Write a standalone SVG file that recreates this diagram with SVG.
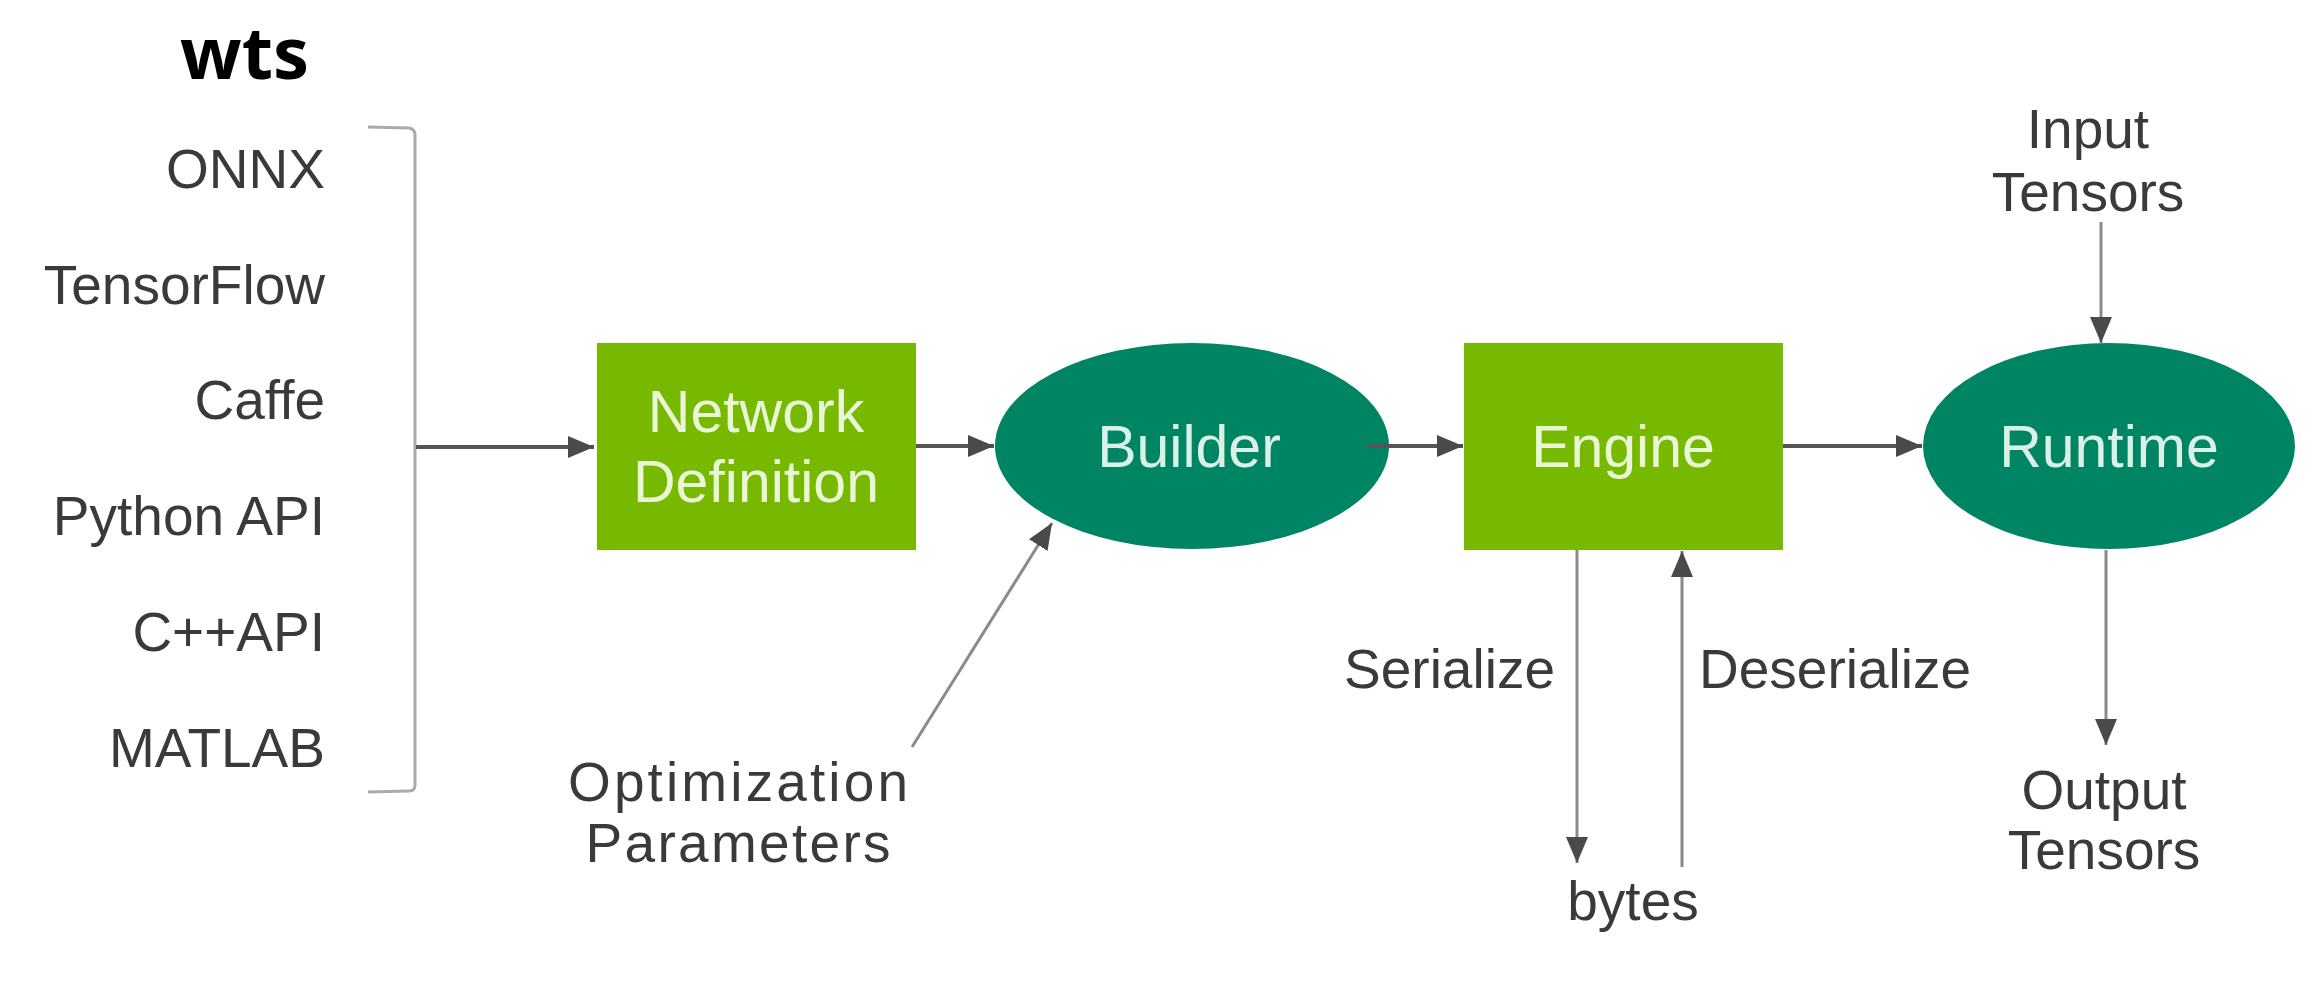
<svg xmlns="http://www.w3.org/2000/svg" width="2318" height="998" viewBox="0 0 2318 998">
<defs>
<marker id="ah" markerUnits="userSpaceOnUse" markerWidth="28" markerHeight="24" refX="26" refY="11" orient="auto">
<path d="M0,0 L26,11 L0,22 z" fill="#4a4a4a"/>
</marker>
</defs>
<style>
.lbl{font-family:"Liberation Sans",Arial,sans-serif;font-size:55px;fill:#3a3a3a}
.r{text-anchor:end}
.m{text-anchor:middle}
.nt{font-family:"Liberation Sans",Arial,sans-serif;font-size:59px;text-anchor:middle}
.gt{fill:#eaf7d6}
.dt{fill:#d9f1e7}
.box{fill:#76b900}
.ell{fill:#008564}
.h{stroke:#555;stroke-width:4;fill:none}
.v{stroke:#8a8a8a;stroke-width:3;fill:none}
.br{stroke:#aaaaaa;stroke-width:3;fill:none}
</style>
<rect width="2318" height="998" fill="#ffffff"/>
<text x="180" y="79" font-family="'Noto Sans','Noto Sans CJK SC',sans-serif" font-weight="bold" font-size="72" fill="#000">wts</text>
<g id="inputs">
<text class="lbl r" x="325" y="188">ONNX</text>
<text class="lbl r" x="325" y="304">TensorFlow</text>
<text class="lbl r" x="325" y="419">Caffe</text>
<text class="lbl r" x="325" y="535">Python API</text>
<text class="lbl r" x="325" y="651">C++API</text>
<text class="lbl r" x="325" y="767">MATLAB</text>
<path class="br" d="M368,127 L409,128 Q415,129 415,135 L415,785 Q415,791 409,791 L368,792"/>
</g>
<g id="network-definition">
<rect class="box" x="597" y="343" width="319" height="207"/>
<text class="nt gt" x="756" y="432">Network</text>
<text class="nt gt" x="756" y="502">Definition</text>
</g>
<g id="builder">
<ellipse class="ell" cx="1192" cy="446" rx="197" ry="103"/>
<text class="nt dt" x="1189" y="467">Builder</text>
</g>
<g id="engine">
<rect class="box" x="1464" y="343" width="319" height="207"/>
<text class="nt gt" x="1623" y="467">Engine</text>
</g>
<g id="runtime">
<ellipse class="ell" cx="2109" cy="446" rx="186" ry="103"/>
<text class="nt dt" x="2109" y="467">Runtime</text>
</g>
<g id="optimization-parameters">
<text class="lbl m" x="738" y="801" textLength="340">Optimization</text>
<text class="lbl m" x="738" y="862" textLength="305">Parameters</text>
</g>
<g id="bytes">
<text class="lbl m" x="1633" y="920">bytes</text>
</g>
<g id="input-tensors">
<text class="lbl m" x="2088" y="148">Input</text>
<text class="lbl m" x="2088" y="211">Tensors</text>
</g>
<g id="output-tensors">
<text class="lbl m" x="2104" y="809">Output</text>
<text class="lbl m" x="2104" y="869">Tensors</text>
</g>
<g id="edge-labels">
<text class="lbl r" x="1555" y="688">Serialize</text>
<text class="lbl" x="1699" y="688">Deserialize</text>
</g>
<g id="connectors">
<line class="h" x1="416" y1="447" x2="594" y2="447" marker-end="url(#ah)"/>
<line class="h" x1="916" y1="446" x2="994" y2="446" marker-end="url(#ah)"/>
<line class="h" x1="1368" y1="446" x2="1463" y2="446" marker-end="url(#ah)"/>
<line class="h" x1="1783" y1="446" x2="1922" y2="446" marker-end="url(#ah)"/>
<line class="v" x1="912" y1="747" x2="1052" y2="523" marker-end="url(#ah)"/>
<line class="v" x1="2101" y1="222" x2="2101" y2="343" marker-end="url(#ah)"/>
<line class="v" x1="2106" y1="550" x2="2106" y2="745" marker-end="url(#ah)"/>
<line class="v" x1="1577" y1="550" x2="1577" y2="863" marker-end="url(#ah)"/>
<line class="v" x1="1682" y1="867" x2="1682" y2="551" marker-end="url(#ah)"/>
</g>
</svg>
